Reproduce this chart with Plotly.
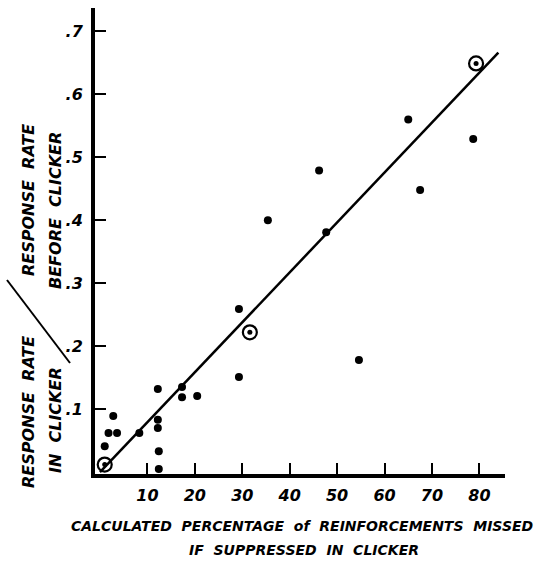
import plotly.graph_objects as go

# data
dot_x = [65.0, 78.7, 46.2, 67.5, 35.4, 47.7, 29.3, 54.6, 29.3, 12.2, 17.3, 17.3, 20.5,
         2.8, 1.8, 3.6, 8.3, 12.2, 12.2, 1.0, 12.4, 12.4]
dot_y = [0.560, 0.529, 0.479, 0.448, 0.400, 0.381, 0.259, 0.178, 0.151, 0.132, 0.135,
         0.119, 0.121, 0.089, 0.062, 0.062, 0.062, 0.083, 0.070, 0.041, 0.033, 0.005]
circ_x = [79.3, 31.6, 1.0]
circ_y = [0.649, 0.222, 0.012]
fit_x = [0, 84]
fit_y = [0, 0.666]
x_ticks = [10, 20, 30, 40, 50, 60, 70, 80]
x_labels = ["10", "20", "30", "40", "50", "60", "70", "80"]
y_ticks = [0.1, 0.2, 0.3, 0.4, 0.5, 0.6, 0.7]
y_labels = [".1", ".2", ".3", ".4", ".5", ".6", ".7"]

FONT = "DejaVu Sans, Liberation Sans"
NB = "\u00a0"

fig = go.Figure()
fig.add_trace(go.Scatter(x=fit_x, y=fit_y, mode="lines",
                         line=dict(color="black", width=2.5), hoverinfo="skip"))
fig.add_trace(go.Scatter(x=dot_x, y=dot_y, mode="markers",
                         marker=dict(color="black", size=8)))
fig.add_trace(go.Scatter(x=circ_x, y=circ_y, mode="markers",
                         marker=dict(color="rgba(0,0,0,0)", size=14,
                                     line=dict(color="black", width=2.2))))
fig.add_trace(go.Scatter(x=circ_x, y=circ_y, mode="markers",
                         marker=dict(color="black", size=5)))

tickfont = dict(family=FONT, size=16, color="black", weight="bold", style="italic")

fig.update_layout(
    width=539, height=563,
    margin=dict(l=95, r=34, t=8, b=89),
    plot_bgcolor="white", paper_bgcolor="white",
    showlegend=False,
    xaxis=dict(range=[-1.05, 85.4], showgrid=False, zeroline=False,
               showline=True, linecolor="black", linewidth=4,
               ticks="inside", ticklen=11, tickwidth=2, tickcolor="black",
               tickvals=x_ticks, ticktext=x_labels, tickfont=tickfont,
               ticklabelstandoff=4),
    yaxis=dict(range=[-0.003, 0.737], showgrid=False, zeroline=False,
               showline=True, linecolor="black", linewidth=4,
               ticks="inside", ticklen=11, tickwidth=2, tickcolor="black",
               tickvals=y_ticks, ticktext=y_labels, tickfont=tickfont,
               ticklabelstandoff=5),
)

lab = dict(family=FONT, size=14, color="black", weight="bold", style="italic")


def px_to_paper(px, py):
    return (px - 95) / 410.0, (474 - py) / 466.0


def add_text(text, px, py, angle=0, size=14):
    xp, yp = px_to_paper(px, py)
    f = dict(lab)
    f["size"] = size
    fig.add_annotation(text=text, x=xp, y=yp, xref="paper", yref="paper",
                       showarrow=False, textangle=angle, font=f,
                       xanchor="center", yanchor="middle")


add_text(f"CALCULATED{NB}{NB}PERCENTAGE{NB}{NB}of{NB}{NB}REINFORCEMENTS{NB}{NB}MISSED", 302, 526)
add_text(f"IF{NB}{NB}SUPPRESSED{NB}{NB}IN{NB}{NB}CLICKER", 304, 550)
add_text(f"RESPONSE{NB}{NB}RATE", 28, 200, -90, 16)
add_text(f"BEFORE{NB}{NB}CLICKER", 55, 211, -90, 16)
add_text(f"RESPONSE{NB}{NB}RATE", 28, 412, -90, 16)
add_text(f"IN{NB}{NB}CLICKER", 55, 420, -90, 16)

x0, y0 = px_to_paper(7, 280)
x1, y1 = px_to_paper(70, 363)
fig.add_shape(type="line", xref="paper", yref="paper", x0=x0, y0=y0, x1=x1, y1=y1,
              line=dict(color="black", width=2))

fig.write_html("out.html")
